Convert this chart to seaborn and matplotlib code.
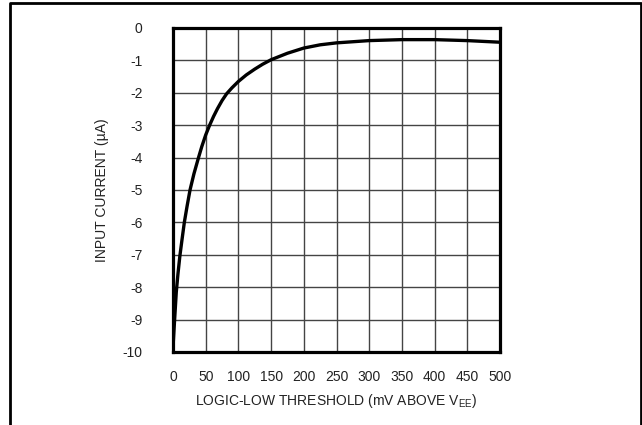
import seaborn as sns
import matplotlib.pyplot as plt
from matplotlib.lines import Line2D
import pandas as pd

# input current vs logic-low threshold
threshold_mv = [0, 2, 5, 7.5, 10.4, 13.5, 17.3, 21.5, 26, 32, 39, 44, 50, 56,
                62, 68, 75, 82, 90, 100, 112, 125, 137, 150, 175, 200, 225,
                250, 300, 350, 400, 450, 500]
current_ua = [-9.85, -9.15, -8.15, -7.6, -7.05, -6.57, -6.0, -5.5, -5.0,
              -4.5, -4.0, -3.66, -3.3, -3.0, -2.73, -2.49, -2.24, -2.03,
              -1.85, -1.65, -1.45, -1.27, -1.12, -0.98, -0.78, -0.62, -0.52,
              -0.46, -0.39, -0.36, -0.36, -0.39, -0.44]
xticks = list(range(0, 501, 50))
yticks = list(range(0, -11, -1))

df = pd.DataFrame({"x": threshold_mv, "y": current_ua})

sns.set_style("white")
plt.rcParams['font.family'] = ['Liberation Sans', 'DejaVu Sans']

fig = plt.figure(figsize=(6.42, 4.25), dpi=100)
ax = fig.add_axes([0.2695, 0.1718, 0.5093, 0.7624])

sns.lineplot(data=df, x="x", y="y", ax=ax, color="black", linewidth=2.4)

ax.set_xlim(0, 500)
ax.set_ylim(-10, 0)
ax.set_xticks(xticks)
ax.set_yticks(yticks)
ax.set_xticklabels([str(t) for t in xticks])
ax.set_yticklabels([str(t) for t in yticks])
ax.grid(True, color="#444444", linewidth=1)
ax.tick_params(length=0, labelsize=10, colors="#222222")
ax.tick_params(axis="x", pad=13)
ax.tick_params(axis="y", pad=22)
for s in ax.spines.values():
    s.set_visible(True)
    s.set_color("black")
    s.set_linewidth(2.3)

ax.set_xlabel("LOGIC-LOW THRESHOLD (mV ABOVE V$_{\\mathregular{EE}}$)", fontsize=10,
              color="#222222", labelpad=6)
ax.set_ylabel("INPUT CURRENT (\u00b5A)", fontsize=10, color="#222222", labelpad=10)

# outer frame open at the bottom
l, r, t = 9.5 / 642, 640.5 / 642, 1 - 2.5 / 425
fig.add_artist(Line2D([l, l, r, r], [0, t, t, 0], transform=fig.transFigure,
                      color="black", linewidth=2))

fig.savefig("out.png", dpi=100)
